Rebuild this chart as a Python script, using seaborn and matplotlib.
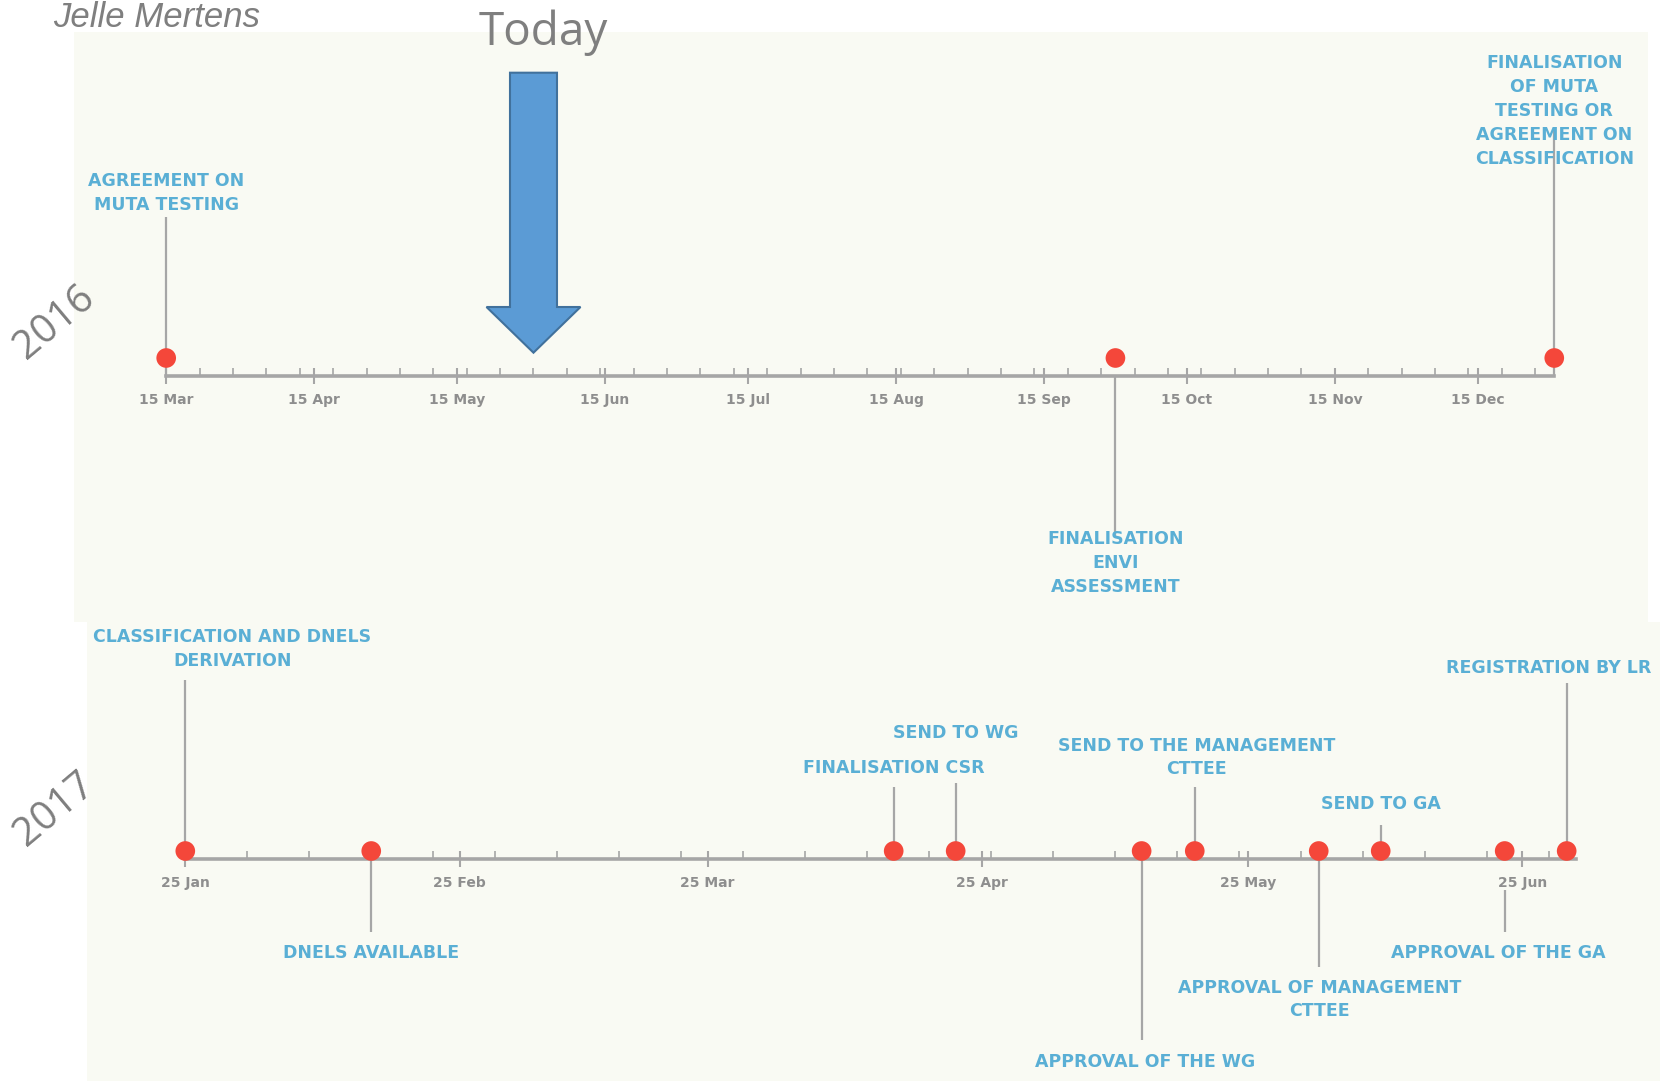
import matplotlib
matplotlib.use("Agg")
import matplotlib.pyplot as plt
import matplotlib.dates as mdates
import matplotlib.transforms as mtransforms
from matplotlib.patches import Polygon
import numpy as np
import pandas as pd
import seaborn as sns

# ---------------- data ----------------
events_2016 = [
    "AGREEMENT ON\nMUTA TESTING",
    "FINALISATION\nENVI\nASSESSMENT",
    "FINALISATION\nOF MUTA\nTESTING OR\nAGREEMENT ON\nCLASSIFICATION",
]
dates_2016 = ["2016-03-15", "2016-09-30", "2016-12-31"]
ticks_2016 = ["2016-03-15", "2016-04-15", "2016-05-15", "2016-06-15", "2016-07-15",
              "2016-08-15", "2016-09-15", "2016-10-15", "2016-11-15", "2016-12-15"]
tick_labels_2016 = ["15 Mar", "15 Apr", "15 May", "15 Jun", "15 Jul",
                    "15 Aug", "15 Sep", "15 Oct", "15 Nov", "15 Dec"]
span_2016 = ["2016-03-15", "2016-12-31"]
today = "2016-05-31"

events_2017 = [
    "CLASSIFICATION AND DNELS\nDERIVATION",
    "DNELS AVAILABLE",
    "FINALISATION CSR",
    "SEND TO WG",
    "APPROVAL OF THE WG",
    "SEND TO THE MANAGEMENT\nCTTEE",
    "APPROVAL OF MANAGEMENT\nCTTEE",
    "SEND TO GA",
    "APPROVAL OF THE GA",
    "REGISTRATION BY LR",
]
dates_2017 = ["2017-01-25", "2017-02-15", "2017-04-15", "2017-04-22", "2017-05-13",
              "2017-05-19", "2017-06-02", "2017-06-09", "2017-06-23", "2017-06-30"]
ticks_2017 = ["2017-01-25", "2017-02-25", "2017-03-25", "2017-04-25", "2017-05-25", "2017-06-25"]
tick_labels_2017 = ["25 Jan", "25 Feb", "25 Mar", "25 Apr", "25 May", "25 Jun"]
span_2017 = ["2017-01-25", "2017-07-01"]

# ---------------- layout (pixels relative to the timeline) ----------------
stem_from_2016 = [0, 0, 0]
stem_to_2016 = [159, -161, 246]
label_y_2016 = [183, -187, 265]
label_dx_2016 = [0, 0, 0]

stem_from_2017 = [0, 0, 0, 0, 0, 0, 0, 0, -31, 0]
stem_to_2017 = [179, -73, 72, 76, -181, 72, -108, 34, -73, 176]
label_y_2017 = [210, -94, 91, 126, -203, 101.5, -140.5, 55, -94, 191]
label_dx_2017 = [47, 0, 0, 0, 3, 2, 1, 0, -6, -18]

W, H = 1660, 1081
BG = "#f9faf3"
LINE = "#a6a6a6"
DOT = "#f4473a"
LABEL = "#5aafd5"
GREY = "#7f7f7f"

fig = plt.figure(figsize=(W / 100, H / 100), dpi=100)
fig.patch.set_facecolor("white")


def px_rect(l, t, r, b):
    return [l / W, 1 - b / H, (r - l) / W, (b - t) / H]


def draw_timeline(ax, events, dates, ticks, tick_labels, span, xlim, ylim,
                  dot_y, stem_from, stem_to, label_y, label_dx):
    ax.set_facecolor(BG)
    x = mdates.date2num(pd.to_datetime(dates))
    sns.scatterplot(x=x, y=np.full(len(x), dot_y), ax=ax, s=200, color=DOT,
                    edgecolor="none", zorder=4, legend=False, clip_on=False)
    ax.vlines(x, stem_from, stem_to, color=LINE, lw=1.6, zorder=2)
    for xi, txt, ly, dx in zip(x, events, label_y, label_dx):
        tr = mtransforms.offset_copy(ax.transData, fig=fig, x=dx, y=0, units="dots")
        ax.text(xi, ly, txt, transform=tr, ha="center", va="center",
                fontsize=12.5, fontweight="bold", color=LABEL, linespacing=1.42,
                family="DejaVu Sans", zorder=3)

    s0, s1 = mdates.date2num(pd.to_datetime(span))
    ax.set_xlim(*xlim)
    ax.set_ylim(*ylim)
    for side in ("top", "left", "right"):
        ax.spines[side].set_visible(False)
    sp = ax.spines["bottom"]
    sp.set_position(("data", 0))
    sp.set_bounds(s0, s1)
    sp.set_color(LINE)
    sp.set_linewidth(2.6)

    major = mdates.date2num(pd.to_datetime(ticks))
    minor = mdates.date2num(pd.date_range(span[0], span[1], freq="7D"))
    ax.set_xticks(major, tick_labels, fontweight="bold", family="DejaVu Sans")
    ax.set_xticks(minor, minor=True)
    ax.tick_params(axis="x", which="major", direction="inout", length=11, width=1.5,
                   color=LINE, labelcolor="#8e8e8e", labelsize=10, pad=7)
    ax.tick_params(axis="x", which="minor", direction="in", length=6, width=1.2,
                   color=LINE)
    ax.tick_params(axis="y", left=False, labelleft=False)
    ax.set_xlabel("")
    ax.set_ylabel("")


# 2016 panel
ax1 = fig.add_axes(px_rect(74, 32, 1648, 622))
t16 = mdates.date2num(pd.Timestamp(span_2016[0]))
draw_timeline(ax1, events_2016, dates_2016, ticks_2016, tick_labels_2016, span_2016,
              (t16 - 19.33, t16 + 310.65), (-246, 344), 18,
              stem_from_2016, stem_to_2016, label_y_2016, label_dx_2016)

# 2017 panel
ax2 = fig.add_axes(px_rect(87, 622, 1660, 1081))
t17 = mdates.date2num(pd.Timestamp(span_2017[0]))
draw_timeline(ax2, events_2017, dates_2017, ticks_2017, tick_labels_2017, span_2017,
              (t17 - 11.10, t17 + 166.54), (-222, 237), 8,
              stem_from_2017, stem_to_2017, label_y_2017, label_dx_2017)

# "Today" arrow pointing at the current date on the 2016 line
tx, _ = ax1.transData.transform((mdates.date2num(pd.Timestamp(today)), 0))
tip_y = H - 352.7
shaft, head = 23.5, 47
head_base = tip_y + 45.7
shaft_top = tip_y + 280
arrow = Polygon([(tx - shaft, shaft_top), (tx + shaft, shaft_top), (tx + shaft, head_base),
                 (tx + head, head_base), (tx, tip_y), (tx - head, head_base),
                 (tx - shaft, head_base)], closed=True, facecolor="#5b9bd5",
                edgecolor="#41719c", lw=1.5, transform=mtransforms.IdentityTransform(),
                zorder=10)
fig.add_artist(arrow)
fig.text((tx + 10) / W, 1 - 45 / H, "Today", ha="center", va="baseline",
         fontsize=33, color=GREY, family="Open Sans")

fig.text(53 / W, 1 - 27 / H, "Jelle Mertens", ha="left", va="baseline",
         fontsize=25, color=GREY, style="italic", family="Liberation Sans")

fig.text(55 / W, 1 - 323 / H, "2016", ha="center", va="center", rotation=40,
         fontsize=29, color=GREY, family="Open Sans", rotation_mode="anchor")
fig.text(55 / W, 1 - 810 / H, "2017", ha="center", va="center", rotation=40,
         fontsize=29, color=GREY, family="Open Sans", rotation_mode="anchor")

fig.savefig("out.png", dpi=100, facecolor="white")
